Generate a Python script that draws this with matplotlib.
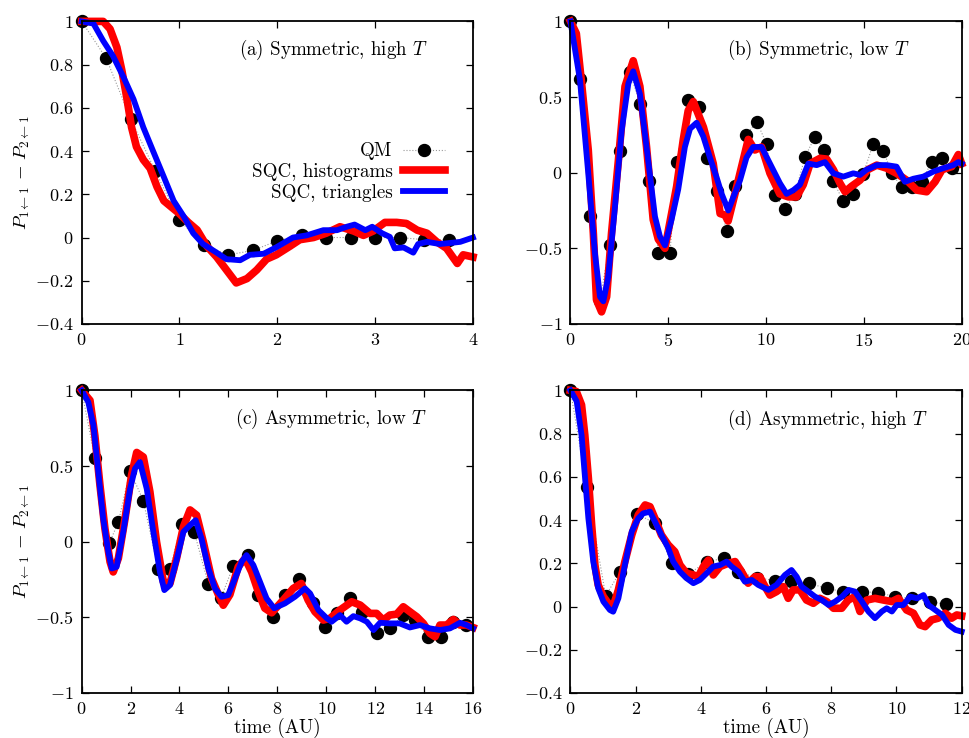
import matplotlib
matplotlib.use("Agg")
import matplotlib.pyplot as plt
from matplotlib.ticker import FuncFormatter

plt.rcParams['font.family'] = 'serif'
plt.rcParams['font.serif'] = ['cmr10']
plt.rcParams['mathtext.fontset'] = 'cm'
plt.rcParams['axes.unicode_minus'] = False
plt.rcParams['font.size'] = 13

# ---------------- (a) symmetric, high T ----------------
qm_t_a = [0, 0.25, 0.5, 0.75, 1.0, 1.25, 1.5, 1.75, 2.0, 2.25, 2.5, 2.75, 3.0, 3.25, 3.5, 3.75]
qm_a = [1.0, 0.83, 0.55, 0.31, 0.08, -0.035, -0.08, -0.06, -0.015, 0.01, 0.0, 0.0, 0.0, 0.0, -0.01, -0.01]

hist_t_a = [0, 0.22, 0.29, 0.36, 0.41, 0.46, 0.51, 0.56, 0.63, 0.70, 0.77, 0.84, 0.92, 1.0, 1.09,
            1.18, 1.28, 1.38, 1.48, 1.58, 1.69, 1.79, 1.89, 1.99, 2.13, 2.23, 2.37, 2.5, 2.64,
            2.78, 2.88, 2.98, 3.1, 3.22, 3.32, 3.43, 3.53, 3.63, 3.73, 3.84, 3.9, 4.0]
hist_a = [1.0, 1.0, 0.965, 0.88, 0.775, 0.65, 0.51, 0.42, 0.36, 0.32, 0.235, 0.17, 0.14, 0.11, 0.07,
          0.035, -0.04, -0.09, -0.15, -0.21, -0.19, -0.15, -0.1, -0.08, -0.04, -0.01, 0.0, 0.02, 0.05,
          0.03, 0.01, 0.03, 0.07, 0.07, 0.065, 0.034, 0.02, -0.02, -0.05, -0.12, -0.08, -0.09]

tri_t_a = [0, 0.12, 0.22, 0.32, 0.43, 0.53, 0.63, 0.73, 0.84, 0.94, 1.04, 1.14, 1.24, 1.38, 1.48,
           1.62, 1.72, 1.86, 1.99, 2.16, 2.3, 2.47, 2.61, 2.71, 2.79, 2.9, 2.97, 3.07, 3.15, 3.2,
           3.29, 3.39, 3.44, 3.53, 3.66, 3.77, 3.87, 4.0]
tri_a = [1.0, 0.99, 0.91, 0.84, 0.74, 0.64, 0.51, 0.40, 0.28, 0.17, 0.1, 0.02, -0.03, -0.07, -0.1,
         -0.105, -0.08, -0.075, -0.045, 0.0, 0.01, 0.034, 0.034, 0.05, 0.06, 0.034, 0.05, 0.02, 0.003, -0.05,
         -0.046, -0.07, -0.03, -0.02, -0.03, -0.025, -0.02, 0.0]

# ---------------- (b) symmetric, low T ----------------
qm_t_b = [0, 0.49, 1.0, 1.5, 2.0, 2.53, 3.04, 3.55, 4.03, 4.5, 5.09, 5.43, 6.02, 6.58, 7.0, 7.5,
          7.98, 8.41, 9.0, 9.52, 10.03, 10.45, 10.97, 11.48, 11.99, 12.5, 12.98, 13.44, 13.95, 14.46,
          14.97, 15.48, 15.99, 16.42, 16.93, 17.44, 17.95, 18.46, 18.98, 19.49]
qm_b = [1.0, 0.62, -0.286, -0.85, -0.478, 0.144, 0.668, 0.455, -0.053, -0.529, -0.529, 0.071, 0.481, 0.435, 0.1, -0.12,
        -0.385, -0.088, 0.25, 0.338, 0.19, -0.147, -0.24, -0.14, 0.104, 0.238, 0.15, -0.055, -0.19, -0.142,
        -0.007, 0.19, 0.146, 0.0, -0.097, -0.097, -0.06, 0.07, 0.10, 0.03]

hist_t_b = [0, 0.3, 0.57, 0.91, 1.17, 1.33, 1.59, 1.85, 2.1, 2.45, 2.79, 3.21, 3.55, 3.89, 4.23, 4.49,
            4.83, 5.17, 5.43, 5.77, 6.02, 6.28, 6.8, 7.3, 7.65, 7.9, 8.06, 8.41, 8.75, 9.09, 9.43,
            9.77, 10.2, 10.7, 11.14, 11.56, 11.9, 12.25, 12.76, 13.1, 13.44, 13.78, 14.04, 14.37, 14.8,
            15.2, 15.66, 16.16, 16.67, 17.19, 17.7, 18.21, 18.64, 19.0, 19.49, 19.83, 20.0]
hist_b = [1.0, 0.92, 0.59, 0.15, -0.4, -0.84, -0.92, -0.82, -0.4, 0.08, 0.57, 0.74, 0.57, 0.17, -0.31, -0.44,
          -0.5, -0.27, -0.09, 0.22, 0.41, 0.47, 0.3, 0.06, -0.27, -0.28, -0.32, -0.14, 0.04, 0.22, 0.15,
          0.17, -0.004, -0.14, -0.16, -0.16, -0.08, 0.06, 0.095, 0.09, 0.02, -0.07, -0.126, -0.09, -0.05,
          0.02, 0.05, 0.03, -0.004, -0.05, -0.115, -0.126, -0.06, 0.02, 0.04, 0.12, 0.06]

tri_t_b = [0, 0.49, 0.91, 1.25, 1.51, 1.68, 1.93, 2.28, 2.62, 2.96, 3.21, 3.55, 3.89, 4.32, 4.57,
           4.83, 5.17, 5.51, 5.85, 6.11, 6.45, 6.79, 7.13, 7.47, 7.73, 8.07, 8.33, 8.67, 9.0, 9.34,
           9.77, 10.2, 10.71, 11.05, 11.4, 11.73, 12.16, 12.59, 13.01, 13.44, 13.95, 14.46, 14.8, 15.14,
           15.66, 16.16, 16.67, 17.1, 17.53, 18.04, 18.55, 19.06, 19.57, 19.83, 20.0]
tri_b = [1.0, 0.61, -0.004, -0.53, -0.82, -0.85, -0.69, -0.22, 0.28, 0.59, 0.67, 0.52, 0.17, -0.29, -0.42,
         -0.48, -0.31, -0.11, 0.17, 0.29, 0.33, 0.24, 0.1, -0.03, -0.14, -0.25, -0.16, -0.05, 0.1, 0.17,
         0.17, 0.06, -0.07, -0.14, -0.115, -0.08, 0.06, 0.05, 0.07, -0.004, -0.026, -0.004, -0.015, 0.02,
         0.05, 0.05, 0.04, -0.06, -0.04, -0.026, 0.007, 0.03, 0.05, 0.07, 0.06]

# ---------------- (c) asymmetric, low T ----------------
qm_t_c = [0, 0.54, 1.13, 1.5, 1.98, 2.52, 3.13, 3.61, 4.09, 4.6, 5.18, 5.7, 6.2, 6.81, 7.22, 7.84,
          8.31, 8.9, 9.47, 9.95, 10.43, 10.97, 11.45, 12.06, 12.6, 13.15, 13.63, 14.17, 14.68, 15.2, 15.7]
qm_c = [1.0, 0.55, -0.01, 0.13, 0.47, 0.27, -0.18, -0.18, 0.12, 0.065, -0.28, -0.37, -0.16, -0.09, -0.35, -0.5,
        -0.353, -0.245, -0.406, -0.565, -0.474, -0.37, -0.463, -0.606, -0.573, -0.485, -0.518, -0.63, -0.63, -0.53, -0.55]

hist_t_c = [0, 0.34, 0.54, 0.75, 0.95, 1.16, 1.29, 1.5, 1.77, 2.04, 2.25, 2.52, 2.79, 3.06, 3.34, 3.61,
            3.88, 4.16, 4.43, 4.7, 4.97, 5.31, 5.59, 5.79, 6.06, 6.4, 6.68, 6.95, 7.22, 7.49, 7.77,
            8.24, 8.65, 8.98, 9.26, 9.54, 9.88, 10.15, 10.56, 11.04, 11.39, 11.79, 12.06, 12.33, 12.6,
            12.88, 13.15, 13.42, 13.7, 13.97, 14.24, 14.45, 14.65, 14.92, 15.2, 15.47, 15.74, 16.0]
hist_c = [1.0, 0.934, 0.70, 0.37, 0.087, -0.133, -0.2, -0.11, 0.15, 0.44, 0.59, 0.56, 0.33, 0.0, -0.265, -0.276,
          -0.11, 0.098, 0.21, 0.175, 0.0, -0.243, -0.35, -0.42, -0.35, -0.166, -0.11, -0.2, -0.33, -0.44, -0.47,
          -0.386, -0.309, -0.276, -0.386, -0.463, -0.518, -0.507, -0.452, -0.397, -0.419, -0.474, -0.474, -0.518, -0.485,
          -0.479, -0.43, -0.463, -0.496, -0.54, -0.606, -0.628, -0.551, -0.551, -0.514, -0.551, -0.551, -0.567]

tri_t_c = [0, 0.27, 0.48, 0.68, 0.88, 1.09, 1.23, 1.43, 1.7, 1.98, 2.18, 2.38, 2.66, 2.93, 3.2, 3.38,
           3.61, 3.88, 4.16, 4.43, 4.66, 4.9, 5.18, 5.45, 5.72, 5.99, 6.27, 6.54, 6.74, 7.02, 7.29,
           7.56, 7.87, 8.31, 8.72, 9.13, 9.34, 9.68, 10.03, 10.22, 10.56, 10.83, 11.11, 11.39, 11.66,
           11.93, 12.2, 12.6, 13.0, 13.42, 13.83, 14.24, 14.65, 15.06, 15.47, 15.74, 16.0]
tri_c = [1.0, 0.923, 0.77, 0.46, 0.153, -0.067, -0.177, -0.166, 0.065, 0.35, 0.483, 0.527, 0.35, 0.065, -0.2, -0.32,
         -0.287, -0.122, 0.065, 0.109, 0.142, 0.021, -0.177, -0.309, -0.364, -0.353, -0.243, -0.133, -0.089, -0.155, -0.265,
         -0.375, -0.44, -0.408, -0.364, -0.309, -0.342, -0.452, -0.507, -0.529, -0.485, -0.529, -0.492, -0.507, -0.529,
         -0.584, -0.536, -0.54, -0.54, -0.567, -0.551, -0.573, -0.584, -0.573, -0.536, -0.551, -0.573]

# ---------------- (d) asymmetric, high T ----------------
qm_t_d = [0, 0.5, 1.08, 1.52, 2.03, 2.59, 3.1, 3.62, 4.18, 4.72, 5.15, 5.71, 6.27, 6.78, 7.33, 7.86,
          8.37, 8.93, 9.44, 9.96, 10.47, 11.03, 11.52]
qm_d = [1.0, 0.555, 0.05, 0.16, 0.43, 0.385, 0.2, 0.15, 0.208, 0.223, 0.16, 0.134, 0.12, 0.12, 0.107, 0.084,
        0.069, 0.069, 0.064, 0.046, 0.038, 0.023, 0.01]

hist_t_d = [0, 0.18, 0.34, 0.44, 0.55, 0.65, 0.75, 0.85, 1.01, 1.16, 1.31, 1.47, 1.67, 1.88, 2.08, 2.29,
            2.44, 2.59, 2.79, 3.0, 3.2, 3.36, 3.56, 3.77, 3.92, 4.08, 4.23, 4.38, 4.59, 4.84, 5.05,
            5.25, 5.45, 5.66, 5.81, 5.97, 6.12, 6.32, 6.53, 6.68, 6.83, 7.04, 7.24, 7.45, 7.65, 7.86,
            8.07, 8.32, 8.52, 8.73, 8.88, 9.09, 9.34, 9.6, 9.86, 10.06, 10.31, 10.52, 10.72, 10.88,
            11.08, 11.28, 11.49, 11.69, 11.85, 12.0]
hist_d = [1.0, 0.995, 0.933, 0.794, 0.593, 0.377, 0.192, 0.1, 0.046, 0.015, 0.0, 0.077, 0.208, 0.331, 0.424, 0.47,
          0.462, 0.408, 0.331, 0.285, 0.254, 0.192, 0.154, 0.146, 0.138, 0.185, 0.215, 0.146, 0.185, 0.2, 0.208,
          0.161, 0.108, 0.138, 0.138, 0.092, 0.053, 0.069, 0.092, 0.038, 0.077, 0.077, 0.03, 0.015, 0.038, 0.023,
          -0.008, -0.008, 0.03, 0.046, -0.023, 0.03, 0.038, 0.03, 0.023, 0.038, -0.016, -0.031, -0.085, -0.093,
          -0.062, -0.054, -0.031, -0.054, -0.039, -0.043]

tri_t_d = [0, 0.19, 0.34, 0.44, 0.55, 0.7, 0.85, 1.01, 1.21, 1.31, 1.47, 1.67, 1.88, 2.08, 2.23, 2.44,
           2.59, 2.79, 3.0, 3.15, 3.36, 3.56, 3.77, 3.97, 4.18, 4.38, 4.59, 4.79, 4.94, 5.15, 5.35,
           5.56, 5.76, 6.07, 6.32, 6.58, 6.78, 6.94, 7.09, 7.3, 7.5, 7.71, 7.92, 8.12, 8.33, 8.53,
           8.73, 8.94, 9.14, 9.34, 9.55, 9.7, 9.86, 10.01, 10.21, 10.42, 10.63, 10.83, 10.98, 11.19,
           11.4, 11.6, 11.81, 12.0]
tri_d = [1.0, 0.95, 0.794, 0.609, 0.408, 0.208, 0.085, 0.023, -0.016, -0.024, 0.038, 0.192, 0.347, 0.408, 0.431, 0.439,
         0.393, 0.331, 0.27, 0.208, 0.161, 0.131, 0.108, 0.123, 0.154, 0.185, 0.192, 0.208, 0.185, 0.161, 0.115,
         0.123, 0.1, 0.077, 0.1, 0.146, 0.169, 0.138, 0.092, 0.069, 0.046, 0.03, 0.007, 0.023, 0.046, 0.077,
         0.069, 0.023, -0.023, -0.054, -0.023, -0.008, -0.023, 0.007, 0.007, 0.046, 0.038, 0.053, 0.007, -0.016,
         -0.039, -0.085, -0.108, -0.116]

panels = [
    ("(a) Symmetric, high $T$", qm_t_a, qm_a, hist_t_a, hist_a, tri_t_a, tri_a,
     (0, 4), [0, 1, 2, 3, 4], (-0.4, 1), [-0.4, -0.2, 0, 0.2, 0.4, 0.6, 0.8, 1], (0.885, 0.906)),
    ("(b) Symmetric, low $T$", qm_t_b, qm_b, hist_t_b, hist_b, tri_t_b, tri_b,
     (0, 20), [0, 5, 10, 15, 20], (-1, 1), [-1, -0.5, 0, 0.5, 1], (0.866, 0.906)),
    ("(c) Asymmetric, low $T$", qm_t_c, qm_c, hist_t_c, hist_c, tri_t_c, tri_c,
     (0, 16), [0, 2, 4, 6, 8, 10, 12, 14, 16], (-1, 1), [-1, -0.5, 0, 0.5, 1], (0.882, 0.906)),
    ("(d) Asymmetric, high $T$", qm_t_d, qm_d, hist_t_d, hist_d, tri_t_d, tri_d,
     (0, 12), [0, 2, 4, 6, 8, 10, 12], (-0.4, 1), [-0.4, -0.2, 0, 0.2, 0.4, 0.6, 0.8, 1], (0.915, 0.903)),
]

rects = [[0.0842, 0.561, 0.4034, 0.410], [0.5881, 0.561, 0.4033, 0.410],
         [0.0842, 0.061, 0.4034, 0.410], [0.5881, 0.061, 0.4033, 0.410]]

fmt = FuncFormatter(lambda v, _: "$%g$" % (round(v, 6) + 0.0))
txt_size = 13.7

fig = plt.figure(figsize=(9.7, 7.38), dpi=100)

for i, (title, qt, qv, ht, hv, tt, tv, xlim, xticks, ylim, yticks, tpos) in enumerate(panels):
    ax = fig.add_axes(rects[i])
    ax.plot(qt, qv, color='0.6', lw=0.8, ls=':', marker='o', ms=8.6,
            mfc='black', mec='black', clip_on=False, label='QM')
    ax.plot(ht, hv, color='#ff0000', lw=5.5, clip_on=False, label='SQC, histograms')
    ax.plot(tt, tv, color='#0000ff', lw=4.2, clip_on=False, label='SQC, triangles')

    ax.set_xlim(*xlim)
    ax.set_ylim(*ylim)
    ax.set_xticks(xticks)
    ax.set_yticks(yticks)
    ax.xaxis.set_major_formatter(fmt)
    ax.yaxis.set_major_formatter(fmt)
    ax.tick_params(direction='in', top=True, right=True, length=5, width=0.9,
                   labelsize=13, pad=6)
    for sp in ax.spines.values():
        sp.set_linewidth(1.3)

    ax.text(tpos[0], tpos[1], title, transform=ax.transAxes, ha='right', va='center', fontsize=txt_size)

    if i in (0, 2):
        ax.text(-0.1526, 0.5, r"$P_{1\leftarrow 1}\,-\,P_{2\leftarrow 1}$", transform=ax.transAxes,
                rotation=90, ha='center', va='center', fontsize=13.5)
    if i in (2, 3):
        ax.text(0.5, -0.116, "time (AU)", transform=ax.transAxes, ha='center', va='center', fontsize=txt_size)

    if i == 0:
        ax.legend(loc='center right', bbox_to_anchor=(0.928, 0.502), frameon=False,
                  markerfirst=False, numpoints=1, handlelength=2.2, handletextpad=0.55,
                  labelspacing=0.15, borderpad=0, borderaxespad=0, fontsize=txt_size)

fig.savefig("out.png", dpi=100)
